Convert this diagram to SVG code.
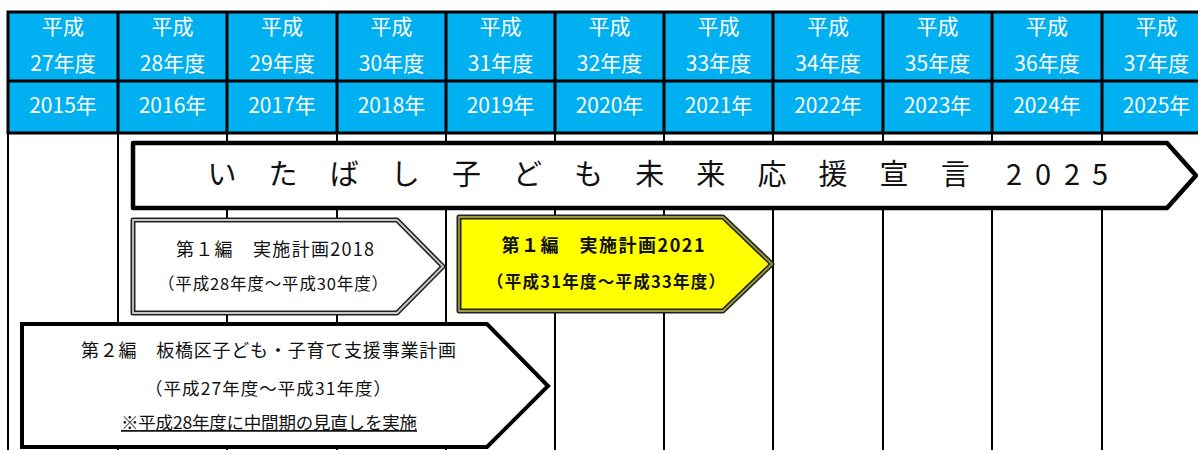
<svg xmlns="http://www.w3.org/2000/svg" width="1198" height="450" viewBox="0 0 1198 450">
<style>
.hd{fill:#00B0F0;stroke:#000;stroke-width:3}
.ht{font-family:"Noto Sans CJK JP","Noto Sans",sans-serif;font-size:21px;fill:#fff;text-anchor:middle}
.vl{stroke:#000;stroke-width:2}
.t{font-family:"Noto Sans CJK JP","Noto Sans",sans-serif;fill:#111;text-anchor:middle}
.big{font-family:"Noto Sans CJK JP","Noto Sans",sans-serif;font-size:29px;fill:#111;text-anchor:middle}
.dblo{stroke:#222;stroke-width:5;stroke-linejoin:round}
.dbli{fill:none;stroke:#c8c8c8;stroke-width:1.8;stroke-linejoin:round}
</style>
<rect width="1198" height="450" fill="#fff"/>
<g id="grid">
<line class="vl" x1="8" y1="133" x2="8" y2="450"/>
<line class="vl" x1="118" y1="133" x2="118" y2="450"/>
<line class="vl" x1="227" y1="133" x2="227" y2="450"/>
<line class="vl" x1="337" y1="133" x2="337" y2="450"/>
<line class="vl" x1="446" y1="133" x2="446" y2="450"/>
<line class="vl" x1="555" y1="133" x2="555" y2="450"/>
<line class="vl" x1="664" y1="133" x2="664" y2="450"/>
<line class="vl" x1="773" y1="133" x2="773" y2="450"/>
<line class="vl" x1="883" y1="133" x2="883" y2="450"/>
<line class="vl" x1="992" y1="133" x2="992" y2="450"/>
<line class="vl" x1="1102" y1="133" x2="1102" y2="450"/>
</g>
<g id="header">
<rect class="hd" x="8" y="12" width="1204" height="121"/>
<line x1="8" y1="81" x2="1198" y2="81" stroke="#000" stroke-width="3"/>
<g stroke="#000" stroke-width="3">
<line x1="118" y1="12" x2="118" y2="133"/>
<line x1="227" y1="12" x2="227" y2="133"/>
<line x1="337" y1="12" x2="337" y2="133"/>
<line x1="446" y1="12" x2="446" y2="133"/>
<line x1="555" y1="12" x2="555" y2="133"/>
<line x1="664" y1="12" x2="664" y2="133"/>
<line x1="773" y1="12" x2="773" y2="133"/>
<line x1="883" y1="12" x2="883" y2="133"/>
<line x1="992" y1="12" x2="992" y2="133"/>
<line x1="1102" y1="12" x2="1102" y2="133"/>
</g>
<text class="ht" y="34"><tspan x="63">平成</tspan><tspan x="172.5">平成</tspan><tspan x="282">平成</tspan><tspan x="391.5">平成</tspan><tspan x="500.5">平成</tspan><tspan x="609.5">平成</tspan><tspan x="718.5">平成</tspan><tspan x="828">平成</tspan><tspan x="937.5">平成</tspan><tspan x="1047">平成</tspan><tspan x="1156.5">平成</tspan></text>
<text class="ht" y="71"><tspan x="63">27年度</tspan><tspan x="172.5">28年度</tspan><tspan x="282">29年度</tspan><tspan x="391.5">30年度</tspan><tspan x="500.5">31年度</tspan><tspan x="609.5">32年度</tspan><tspan x="718.5">33年度</tspan><tspan x="828">34年度</tspan><tspan x="937.5">35年度</tspan><tspan x="1047">36年度</tspan><tspan x="1156.5">37年度</tspan></text>
<text class="ht" y="113"><tspan x="63">2015年</tspan><tspan x="172.5">2016年</tspan><tspan x="282">2017年</tspan><tspan x="391.5">2018年</tspan><tspan x="500.5">2019年</tspan><tspan x="609.5">2020年</tspan><tspan x="718.5">2021年</tspan><tspan x="828">2022年</tspan><tspan x="937.5">2023年</tspan><tspan x="1047">2024年</tspan><tspan x="1156.5">2025年</tspan></text>
</g>
<g id="sengen">
<polygon points="133,143 1167,143 1196,175.5 1167,208 133,208" fill="#fff" stroke="#000" stroke-width="4.5" stroke-linejoin="round"/>
<text class="big" y="185" x="222 283.1 344.2 405.3 466.4 527.5 588.6 649.7 710.8 771.9 833 894.1 955.2 1014 1043 1072 1100">いたばし子ども未来応援宣言2025</text>
</g>
<g id="plan2018">
<polygon class="dblo" points="133,220 397,220 443,266.5 397,313 133,313" fill="#fff"/>
<polygon class="dbli" points="133,220 397,220 443,266.5 397,313 133,313"/>
<text class="t" x="275" y="256" font-size="18" textLength="198" lengthAdjust="spacing">第１編　実施計画2018</text>
<text class="t" x="273" y="290" font-size="16.5" textLength="230" lengthAdjust="spacing">（平成28年度～平成30年度）</text>
</g>
<g id="plan2021">
<polygon class="dblo" points="459,217 723,217 772,264 723,311 459,311" fill="#FFFF00"/>
<polygon class="dbli" points="459,217 723,217 772,264 723,311 459,311" style="stroke:#9a9a40"/>
<text class="t" x="603" y="252" font-size="18" font-weight="bold" textLength="203" lengthAdjust="spacing">第１編　実施計画2021</text>
<text class="t" x="606" y="288" font-size="16.5" font-weight="bold" textLength="238" lengthAdjust="spacing">（平成31年度～平成33年度）</text>
</g>
<g id="plan2">
<polygon points="22,324 487,324 548,386 487,447 22,447" fill="#fff" stroke="#000" stroke-width="4" stroke-linejoin="miter"/>
<text class="t" x="268.5" y="357" font-size="18" textLength="375" lengthAdjust="spacing">第２編　板橋区子ども・子育て支援事業計画</text>
<text class="t" x="268" y="395" font-size="17.5" textLength="246" lengthAdjust="spacing">（平成27年度～平成31年度）</text>
<text class="t" x="269" y="429" font-size="17.5" textLength="296" lengthAdjust="spacing" text-decoration="underline">※平成28年度に中間期の見直しを実施</text>
</g>
</svg>
